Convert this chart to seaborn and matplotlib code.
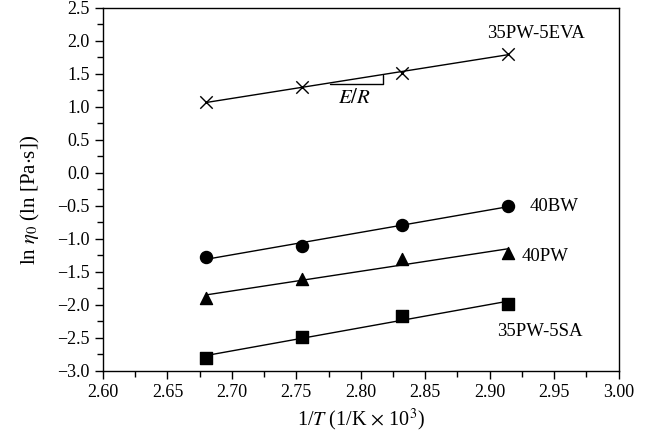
import numpy as np
import pandas as pd
import matplotlib
matplotlib.use("Agg")
import matplotlib.pyplot as plt
import seaborn as sns
from matplotlib.ticker import MultipleLocator

# 1/T values (1/K x 10^3)
inv_T = [2.680, 2.754, 2.832, 2.914]

# ln eta_0 per blend
eva_5 = [1.07, 1.30, 1.52, 1.80]
bw_40 = [-1.28, -1.10, -0.79, -0.50]
pw_40 = [-1.90, -1.60, -1.30, -1.22]
sa_5 = [-2.80, -2.49, -2.17, -1.99]

series_names = ["35PW-5EVA", "40BW", "40PW", "35PW-5SA"]
series_values = [eva_5, bw_40, pw_40, sa_5]
markers = ["x", "o", "^", "s"]

sns.set_style("ticks")
plt.rcParams["font.family"] = ["Liberation Serif", "DejaVu Serif"]
plt.rcParams["mathtext.fontset"] = "stix"
plt.rcParams["text.color"] = "black"
plt.rcParams["axes.labelcolor"] = "black"

fig = plt.figure(figsize=(6.56, 4.40), dpi=100)
ax = fig.add_axes([0.157, 0.157, 0.786, 0.825])

for name, vals, mk in zip(series_names, series_values, markers):
    df = pd.DataFrame({"x": inv_T, "y": vals})
    if mk == "x":
        skw = dict(s=80, linewidths=1.0, color="black", alpha=1, zorder=3)
    else:
        skw = dict(s=75, color="black", edgecolors="black", alpha=1, zorder=3)
    sns.regplot(data=df, x="x", y="y", ax=ax, ci=None, marker=mk,
                scatter_kws=skw,
                line_kws=dict(color="black", lw=1.0, zorder=2))

# E/R slope triangle
ax.plot([2.776, 2.817, 2.817], [1.348, 1.348, 1.48], color="black", lw=1.0)
ax.text(2.795, 1.13, "$E/R$", ha="center", va="center", fontsize=15)

# series labels
ax.text(2.936, 2.12, "35PW-5EVA", ha="center", va="center", fontsize=13.5)
ax.text(2.931, -0.51, "40BW", ha="left", va="center", fontsize=13.5)
ax.text(2.925, -1.26, "40PW", ha="left", va="center", fontsize=13.5)
ax.text(2.906, -2.40, "35PW-5SA", ha="left", va="center", fontsize=13.5)

ax.set_xlim(2.60, 3.00)
ax.set_ylim(-3.0, 2.5)
ax.xaxis.set_major_locator(MultipleLocator(0.05))
ax.xaxis.set_minor_locator(MultipleLocator(0.025))
ax.yaxis.set_major_locator(MultipleLocator(0.5))
ax.yaxis.set_minor_locator(MultipleLocator(0.25))
ax.xaxis.set_major_formatter(matplotlib.ticker.FormatStrFormatter("%.2f"))
ax.yaxis.set_major_formatter(matplotlib.ticker.FuncFormatter(
    lambda v, p: f"{v:.1f}".replace("-", "\u2212")))
ax.tick_params(axis="both", which="major", direction="out", length=6,
               width=1, labelsize=13, color="black", labelcolor="black")
ax.tick_params(axis="both", which="minor", direction="out", length=4,
               width=1, color="black")
for sp in ax.spines.values():
    sp.set_color("black")
    sp.set_linewidth(1.0)

ax.set_xlabel("1/$T$ (1/K $\\times$ 10$^3$)", fontsize=14.5)
ax.set_ylabel("ln $\\eta_0$ (ln [Pa$\\cdot$s])", fontsize=15, labelpad=11)
ax.yaxis.set_label_coords(-0.118, 0.47)

fig.savefig("out.png", dpi=100)
